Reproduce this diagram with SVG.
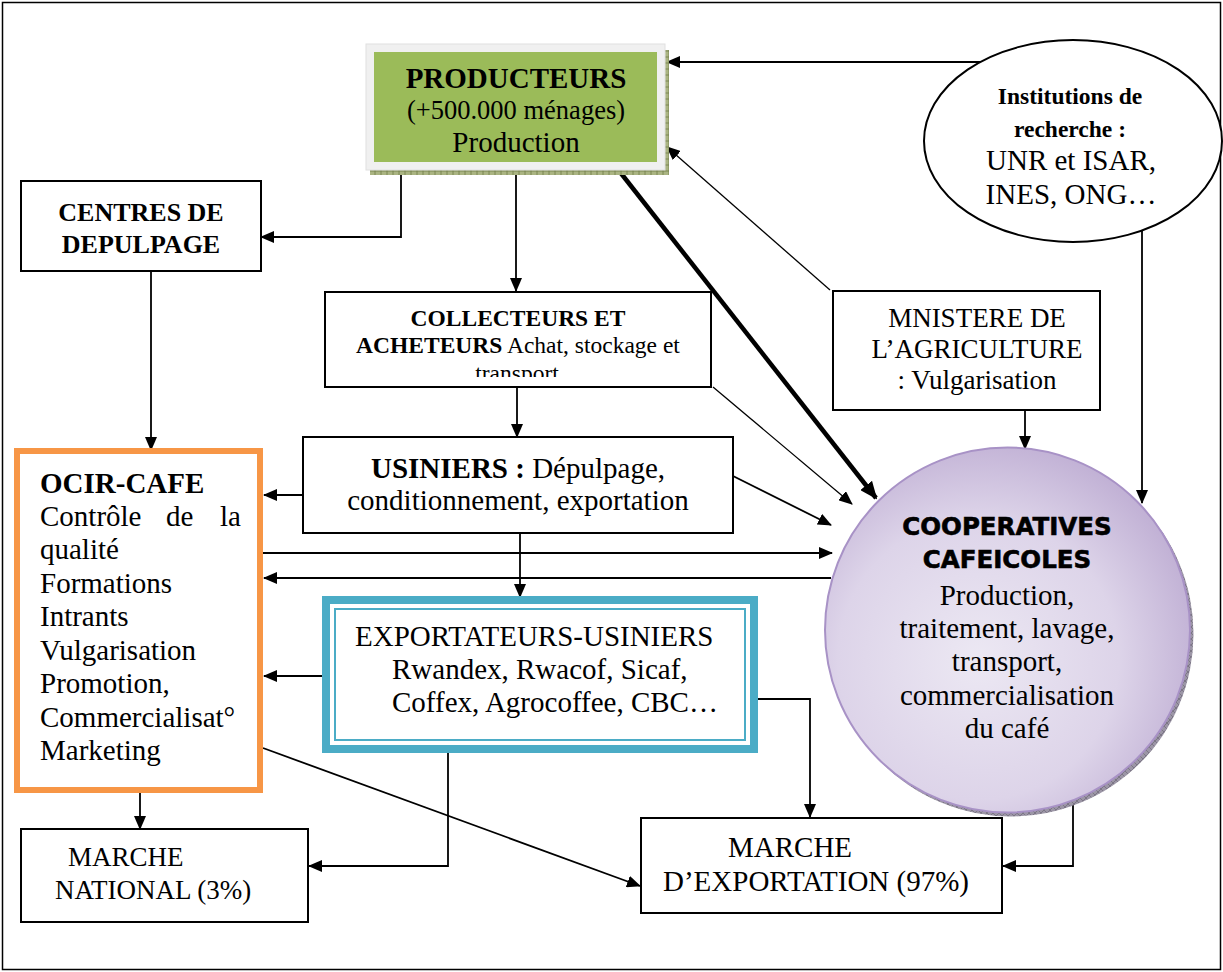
<svg xmlns="http://www.w3.org/2000/svg" width="1223" height="972" viewBox="0 0 1223 972">
  <style>
    .box { fill: #ffffff; stroke: #000000; stroke-width: 2; }
    .t { font-family: 'Liberation Serif', 'Times New Roman', serif; fill: #000000; }
    .b { font-weight: bold; }
    .f29 { font-size: 29px; }
    .f27 { font-size: 27px; }
    .f24 { font-size: 23.5px; }
    .mid { text-anchor: middle; }
    .coop { font-family: 'DejaVu Sans', 'Liberation Sans', Arial, sans-serif; font-weight: bold; font-size: 24.5px; fill: #000000; stroke: #000000; stroke-width: 0.6; text-anchor: middle; }
    .link { fill: none; stroke: #000000; stroke-width: 1.8; }
    .thin { stroke-width: 1.3; }
    .thick { stroke-width: 4.5; }
  </style>
  <defs>
    <marker id="ah" viewBox="0 0 14 12" refX="13" refY="6" markerWidth="14" markerHeight="12" markerUnits="userSpaceOnUse" orient="auto">
      <path d="M0,0 L14,6 L0,12 z" fill="#000000"/>
    </marker>
    <marker id="ahBig" viewBox="0 0 18 15" refX="16" refY="7.5" markerWidth="18" markerHeight="15" markerUnits="userSpaceOnUse" orient="auto">
      <path d="M0,0 L18,7.5 L0,15 z" fill="#000000"/>
    </marker>
    <pattern id="olive" width="6" height="6" patternUnits="userSpaceOnUse">
      <rect width="6" height="6" fill="#aab482"/>
      <path d="M0,3 H6 M3,0 V6" stroke="#6f7a45" stroke-width="0.8"/>
    </pattern>
    <pattern id="grayHatch" width="6" height="6" patternUnits="userSpaceOnUse">
      <rect width="6" height="6" fill="#9c96a6"/>
      <path d="M0,0 L6,6 M6,0 L0,6" stroke="#6e6878" stroke-width="0.7"/>
    </pattern>
    <radialGradient id="lavender" cx="0.42" cy="0.58" r="0.7">
      <stop offset="0" stop-color="#ece8f3"/>
      <stop offset="0.55" stop-color="#ddd4e9"/>
      <stop offset="1" stop-color="#b6a3cd"/>
    </radialGradient>
    <clipPath id="collectClip">
      <rect x="326" y="293" width="384" height="84"/>
    </clipPath>
  </defs>

  <!-- page frame -->
  <rect x="2.5" y="2.5" width="1218" height="967" fill="#ffffff" stroke="#000000" stroke-width="1.5"/>

  <!-- connectors -->
  <g id="connectors">
    <path class="link" d="M982 62 L667 62" marker-end="url(#ah)"/>
    <path class="link thin" d="M830 290 L667 147" marker-end="url(#ah)"/>
    <path class="link thick" d="M620 172 L876 498" marker-end="url(#ahBig)"/>
    <path class="link" d="M401 166 L401 237 L261 237" marker-end="url(#ah)"/>
    <path class="link" d="M516 166 L516 291" marker-end="url(#ah)"/>
    <path class="link" d="M151 271 L151 450" marker-end="url(#ah)"/>
    <path class="link" d="M517 387 L517 437" marker-end="url(#ah)"/>
    <path class="link thin" d="M713 387 L852 504" marker-end="url(#ah)"/>
    <path class="link" d="M303 495 L264 495" marker-end="url(#ah)"/>
    <path class="link" d="M733 476 L831 525" marker-end="url(#ah)"/>
    <path class="link" d="M520 533 L520 597" marker-end="url(#ah)"/>
    <path class="link" d="M263 553 L832 553" marker-end="url(#ah)"/>
    <path class="link" d="M831 578 L264 578" marker-end="url(#ah)"/>
    <path class="link" d="M1025 410 L1025 449" marker-end="url(#ah)"/>
    <path class="link" d="M1142 231 L1142 503" marker-end="url(#ah)"/>
    <path class="link" d="M322 676 L264 676" marker-end="url(#ah)"/>
    <path class="link" d="M758 699 L810 699 L810 817" marker-end="url(#ah)"/>
    <path class="link" d="M448 751 L448 866 L309 866" marker-end="url(#ah)"/>
    <path class="link" d="M263 748 L640 886" marker-end="url(#ah)"/>
    <path class="link" d="M140 793 L140 829" marker-end="url(#ah)"/>
    <path class="link" d="M1073 800 L1073 866 L1003 866" marker-end="url(#ah)"/>
  </g>

  <!-- producers -->
  <g id="producteurs">
    <rect x="370" y="50" width="299" height="125" fill="url(#olive)"/>
    <rect x="366" y="44" width="299" height="126" fill="#f0f0f0" stroke="#e0e0e0" stroke-width="1"/>
    <rect x="374" y="52" width="283" height="110" fill="#9bbb59"/>
    <text class="t b mid" x="516" y="88" font-size="29">PRODUCTEURS</text>
    <text class="t mid" x="516" y="119" font-size="26.5">(+500.000 ménages)</text>
    <text class="t f29 mid" x="516" y="152">Production</text>
  </g>

  <!-- research institutions -->
  <g id="institutions">
    <ellipse cx="1073" cy="141" rx="149" ry="101" fill="#ffffff" stroke="#000000" stroke-width="2"/>
    <text class="t b f24 mid" x="1070" y="104">Institutions de</text>
    <text class="t b f24 mid" x="1070" y="137">recherche :</text>
    <text class="t f29 mid" x="1071" y="170">UNR et ISAR,</text>
    <text class="t f29 mid" x="1071" y="204">INES, ONG…</text>
  </g>

  <!-- pulping centres -->
  <g id="centres">
    <rect class="box" x="21" y="181" width="240" height="90"/>
    <text class="t b mid" x="141" y="221" font-size="26">CENTRES DE</text>
    <text class="t b mid" x="141" y="253" font-size="26">DEPULPAGE</text>
  </g>

  <!-- collectors and buyers -->
  <g id="collecteurs">
    <rect class="box" x="325" y="292" width="386" height="95"/>
    <text class="t b f24 mid" x="518" y="326">COLLECTEURS ET</text>
    <text class="t f24 mid" x="518" y="353"><tspan class="b">ACHETEURS</tspan> Achat, stockage et</text>
    <text class="t f24 mid" x="517" y="381" clip-path="url(#collectClip)">transport</text>
  </g>

  <!-- ministry -->
  <g id="ministere">
    <rect class="box" x="833" y="291" width="267" height="119"/>
    <text class="t f27 mid" x="977" y="327">MNISTERE DE</text>
    <text class="t f27 mid" x="977" y="358">L’AGRICULTURE</text>
    <text class="t f27 mid" x="977" y="389">: Vulgarisation</text>
  </g>

  <!-- millers -->
  <g id="usiniers">
    <rect class="box" x="303" y="437" width="430" height="96"/>
    <text class="t f29 mid" x="518" y="478"><tspan class="b">USINIERS :</tspan> Dépulpage,</text>
    <text class="t f29 mid" x="518" y="510">conditionnement, exportation</text>
  </g>

  <!-- coffee board -->
  <g id="ocir-cafe">
    <rect x="17" y="451" width="243" height="339" fill="#ffffff" stroke="#f79646" stroke-width="6"/>
    <text class="t b f29" x="40" y="493">OCIR-CAFE</text>
    <text class="t f29" x="40" y="526">Contrôle</text>
    <text class="t f29" x="166" y="526">de</text>
    <text class="t f29" x="241" y="526" text-anchor="end">la</text>
    <text class="t f29" x="40" y="559">qualité</text>
    <text class="t f29" x="40" y="593">Formations</text>
    <text class="t f29" x="40" y="626">Intrants</text>
    <text class="t f29" x="40" y="660">Vulgarisation</text>
    <text class="t f29" x="40" y="693">Promotion,</text>
    <text class="t f29" x="40" y="727">Commercialisat°</text>
    <text class="t f29" x="40" y="760">Marketing</text>
  </g>

  <!-- exporters -->
  <g id="exportateurs">
    <rect x="326" y="600" width="428" height="149" fill="#ffffff" stroke="#4bacc6" stroke-width="8"/>
    <rect x="335" y="609" width="410" height="131" fill="#ffffff" stroke="#4bacc6" stroke-width="2"/>
    <text class="t f29" x="355" y="646">EXPORTATEURS-USINIERS</text>
    <text class="t f29" x="392" y="679">Rwandex, Rwacof, Sicaf,</text>
    <text class="t f29" x="392" y="712">Coffex, Agrocoffee, CBC…</text>
  </g>

  <!-- cooperatives -->
  <g id="cooperatives">
    <circle cx="1011" cy="634" r="182.5" fill="url(#grayHatch)"/>
    <circle cx="1007.5" cy="630" r="182.5" fill="url(#lavender)" stroke="#a892c6" stroke-width="2"/>
    <text class="coop" x="1007" y="535">COOPERATIVES</text>
    <text class="coop" x="1007" y="568">CAFEICOLES</text>
    <text class="t f29 mid" x="1007" y="605">Production,</text>
    <text class="t f29 mid" x="1007" y="638">traitement, lavage,</text>
    <text class="t f29 mid" x="1007" y="671">transport,</text>
    <text class="t f29 mid" x="1007" y="705">commercialisation</text>
    <text class="t f29 mid" x="1007" y="738">du café</text>
  </g>

  <!-- national market -->
  <g id="marche-national">
    <rect class="box" x="21" y="829" width="287" height="93"/>
    <text class="t f27" x="68" y="866">MARCHE</text>
    <text class="t f27" x="55" y="899">NATIONAL (3%)</text>
  </g>

  <!-- export market -->
  <g id="marche-export">
    <rect class="box" x="641" y="818" width="361" height="95"/>
    <text class="t f29" x="728" y="857">MARCHE</text>
    <text class="t f29" x="663" y="891">D’EXPORTATION (97%)</text>
  </g>
</svg>
